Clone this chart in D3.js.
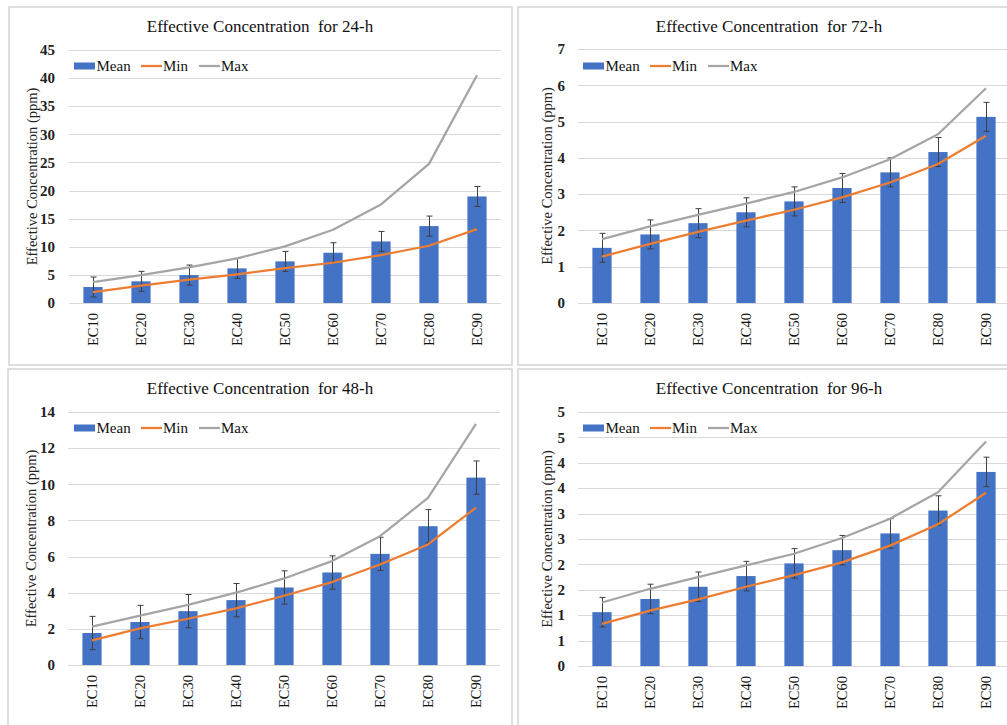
<!DOCTYPE html>
<html>
<head>
<meta charset="utf-8">
<script src="https://cdn.jsdelivr.net/npm/d3@7"></script>
</head>
<body style="margin:0;background:#fff">
<svg id="fig" width="1007" height="725" style="display:block"></svg>
<script>
// Categories shared by all four panels
const categories = ["EC10", "EC20", "EC30", "EC40", "EC50", "EC60", "EC70", "EC80", "EC90"];

// 24-h exposure (ppm)
const mean24 = [2.84, 3.85, 4.97, 6.16, 7.40, 8.94, 10.95, 13.68, 18.95];
const min24  = [1.95, 3.08, 4.14, 5.09, 6.22, 7.16, 8.53, 10.18, 13.14];
const max24  = [3.73, 4.97, 6.34, 7.93, 10.07, 13.03, 17.53, 24.75, 40.5];
const err24  = [1.78, 1.78, 1.78, 1.78, 1.78, 1.78, 1.78, 1.78, 1.78];

// 72-h exposure (ppm)
const mean72 = [1.52, 1.89, 2.20, 2.50, 2.80, 3.17, 3.60, 4.16, 5.13];
const min72  = [1.28, 1.63, 1.96, 2.27, 2.57, 2.91, 3.32, 3.83, 4.61];
const max72  = [1.76, 2.11, 2.43, 2.74, 3.06, 3.46, 3.96, 4.65, 5.92];
const err72  = [0.40, 0.40, 0.40, 0.40, 0.40, 0.40, 0.40, 0.40, 0.40];

// 48-h exposure (ppm)
const mean48 = [1.77, 2.38, 2.98, 3.59, 4.29, 5.12, 6.15, 7.68, 10.37];
const min48  = [1.36, 2.03, 2.56, 3.13, 3.83, 4.59, 5.56, 6.67, 8.71];
const max48  = [2.12, 2.73, 3.33, 4.00, 4.79, 5.75, 7.13, 9.25, 13.34];
const err48  = [0.92, 0.92, 0.92, 0.92, 0.92, 0.92, 0.92, 0.92, 0.92];

// 96-h exposure (ppm)
const mean96 = [1.06, 1.32, 1.56, 1.77, 2.02, 2.28, 2.61, 3.06, 3.82];
const min96  = [0.83, 1.09, 1.31, 1.56, 1.79, 2.04, 2.37, 2.79, 3.41];
const max96  = [1.25, 1.52, 1.75, 1.98, 2.21, 2.52, 2.90, 3.42, 4.42];
const err96  = [0.29, 0.29, 0.29, 0.29, 0.29, 0.29, 0.29, 0.29, 0.29];

// Y-axis ticks and their printed labels
const yTicks24 = [0, 5, 10, 15, 20, 25, 30, 35, 40, 45];
const yLabels24 = ["0", "5", "10", "15", "20", "25", "30", "35", "40", "45"];
const yTicks72 = [0, 1, 2, 3, 4, 5, 6, 7];
const yLabels72 = ["0", "1", "2", "3", "4", "5", "6", "7"];
const yTicks48 = [0, 2, 4, 6, 8, 10, 12, 14];
const yLabels48 = ["0", "2", "4", "6", "8", "10", "12", "14"];
const yTicks96 = [0, 0.5, 1, 1.5, 2, 2.5, 3, 3.5, 4, 4.5, 5];
const yLabels96 = ["0", "1", "1", "2", "2", "3", "3", "4", "4", "5", "5"];

const titles = ["Effective Concentration\u00a0 for 24-h", "Effective Concentration\u00a0 for 72-h",
                "Effective Concentration\u00a0 for 48-h", "Effective Concentration\u00a0 for 96-h"];
const yAxisTitle = "Effective Concentration (ppm)";
const seriesNames = ["Mean", "Min", "Max"];

const FONT = "'Liberation Serif', 'Times New Roman', Tinos, serif";
const colors = { mean: "#4472C4", min: "#ED7D31", max: "#A5A5A5", grid: "#D9D9D9", err: "#3f3f3f" };

const panels = [
  { title: titles[0], mean: mean24, min: min24, max: max24, err: err24, ticks: yTicks24, labels: yLabels24,
    frame: [9, 7, 503, 358], left: 69, top: 50, bottom: 303, titleX: 260, titleY: 32, legX: 74, legY: 66, yTitleX: 32, tickX: 55 },
  { title: titles[1], mean: mean72, min: min72, max: max72, err: err72, ticks: yTicks72, labels: yLabels72,
    frame: [518, 7, 520, 358], left: 578, top: 49, bottom: 303, titleX: 769, titleY: 32, legX: 583, legY: 66, yTitleX: 547, tickX: 565 },
  { title: titles[2], mean: mean48, min: min48, max: max48, err: err48, ticks: yTicks48, labels: yLabels48,
    frame: [8, 369, 504, 380], left: 68, top: 412, bottom: 665, titleX: 260, titleY: 394, legX: 74, legY: 428, yTitleX: 31, tickX: 55 },
  { title: titles[3], mean: mean96, min: min96, max: max96, err: err96, ticks: yTicks96, labels: yLabels96,
    frame: [518, 369, 520, 380], left: 578, top: 412, bottom: 666, titleX: 769, titleY: 394, legX: 583, legY: 428, yTitleX: 547, tickX: 565 }
];

const svg = d3.select("#fig");
const step = 48;

// serif text helper: inline style so the face is applied regardless of other rules
function label(sel, size, weight) {
  return sel.style("font-family", FONT).style("font-size", size + "px")
    .style("font-weight", weight || "normal");
}

panels.forEach(p => {
  const g = svg.append("g");

  // chart frame
  g.append("rect")
    .attr("x", p.frame[0]).attr("y", p.frame[1])
    .attr("width", p.frame[2]).attr("height", p.frame[3])
    .attr("fill", "#fff").attr("stroke", "#D4D4D4").attr("stroke-width", 1.5);

  const x = d3.scaleBand().domain(categories)
    .range([p.left, p.left + step * categories.length]).padding(0);
  const y = d3.scaleLinear().domain([0, d3.max(p.ticks)]).range([p.bottom, p.top]);
  const barW = x.bandwidth() * 0.4;
  const cx = c => x(c) + x.bandwidth() / 2;

  // gridlines
  g.append("g").selectAll("line").data(p.ticks).join("line")
    .attr("x1", p.left).attr("x2", p.left + step * categories.length)
    .attr("y1", d => Math.round(y(d)) + 0.5).attr("y2", d => Math.round(y(d)) + 0.5)
    .attr("stroke", colors.grid).attr("stroke-width", 1);

  // y tick labels
  label(g.append("g").selectAll("text").data(p.ticks).join("text")
    .attr("x", p.tickX).attr("y", d => y(d)).attr("dy", "0.35em")
    .attr("text-anchor", "end").attr("fill", "#222")
    .text((d, i) => p.labels[i]), 15, "bold");

  // x tick labels (rotated)
  label(g.append("g").selectAll("text").data(categories).join("text")
    .attr("transform", d => `translate(${cx(d)},${p.bottom + 10}) rotate(-90)`)
    .attr("dy", "0.35em").attr("text-anchor", "end").attr("fill", "#111")
    .text(d => d), 14.5);

  // mean bars
  g.append("g").selectAll("rect").data(categories).join("rect")
    .attr("x", d => cx(d) - barW / 2).attr("width", barW)
    .attr("y", (d, i) => y(p.mean[i])).attr("height", (d, i) => y(0) - y(p.mean[i]))
    .attr("fill", colors.mean);

  // error bars
  const eb = g.append("g").attr("stroke", colors.err).attr("stroke-width", 1);
  categories.forEach((c, i) => {
    const xc = Math.round(cx(c)) + 0.5;
    const hi = y(p.mean[i] + p.err[i]), lo = y(p.mean[i] - p.err[i]);
    eb.append("line").attr("x1", xc).attr("x2", xc).attr("y1", hi).attr("y2", lo);
    eb.append("line").attr("x1", xc - 3).attr("x2", xc + 3).attr("y1", hi).attr("y2", hi);
    eb.append("line").attr("x1", xc - 3).attr("x2", xc + 3).attr("y1", lo).attr("y2", lo);
  });

  // min / max lines
  const line = d3.line().x((d, i) => cx(categories[i])).y(d => y(d));
  g.append("path").datum(p.min).attr("d", line)
    .attr("fill", "none").attr("stroke", colors.min).attr("stroke-width", 2.25).attr("stroke-linejoin", "round");
  g.append("path").datum(p.max).attr("d", line)
    .attr("fill", "none").attr("stroke", colors.max).attr("stroke-width", 2.25).attr("stroke-linejoin", "round");

  // title
  label(g.append("text").attr("x", p.titleX).attr("y", p.titleY)
    .attr("text-anchor", "middle").attr("fill", "#111")
    .text(p.title), 17);

  // y axis title
  label(g.append("text")
    .attr("transform", `translate(${p.yTitleX},${(p.top + p.bottom) / 2}) rotate(-90)`)
    .attr("text-anchor", "middle").attr("dy", "0.35em").attr("fill", "#222")
    .text(yAxisTitle), 14.5);

  // legend
  const lg = g.append("g").attr("transform", `translate(${p.legX},${p.legY})`);
  lg.append("rect").attr("x", 0).attr("y", -3.5).attr("width", 21).attr("height", 7).attr("fill", colors.mean);
  lg.append("line").attr("x1", 67).attr("x2", 88).attr("y1", 0).attr("y2", 0)
    .attr("stroke", colors.min).attr("stroke-width", 2.25);
  lg.append("line").attr("x1", 125).attr("x2", 146).attr("y1", 0).attr("y2", 0)
    .attr("stroke", colors.max).attr("stroke-width", 2.25);
  [[22.5, seriesNames[0]], [89, seriesNames[1]], [147, seriesNames[2]]].forEach(([lx, name]) => {
    label(lg.append("text").attr("x", lx).attr("y", 0).attr("dy", "0.35em")
      .attr("fill", "#111").text(name), 15);
  });
});
</script>
</body>
</html>
